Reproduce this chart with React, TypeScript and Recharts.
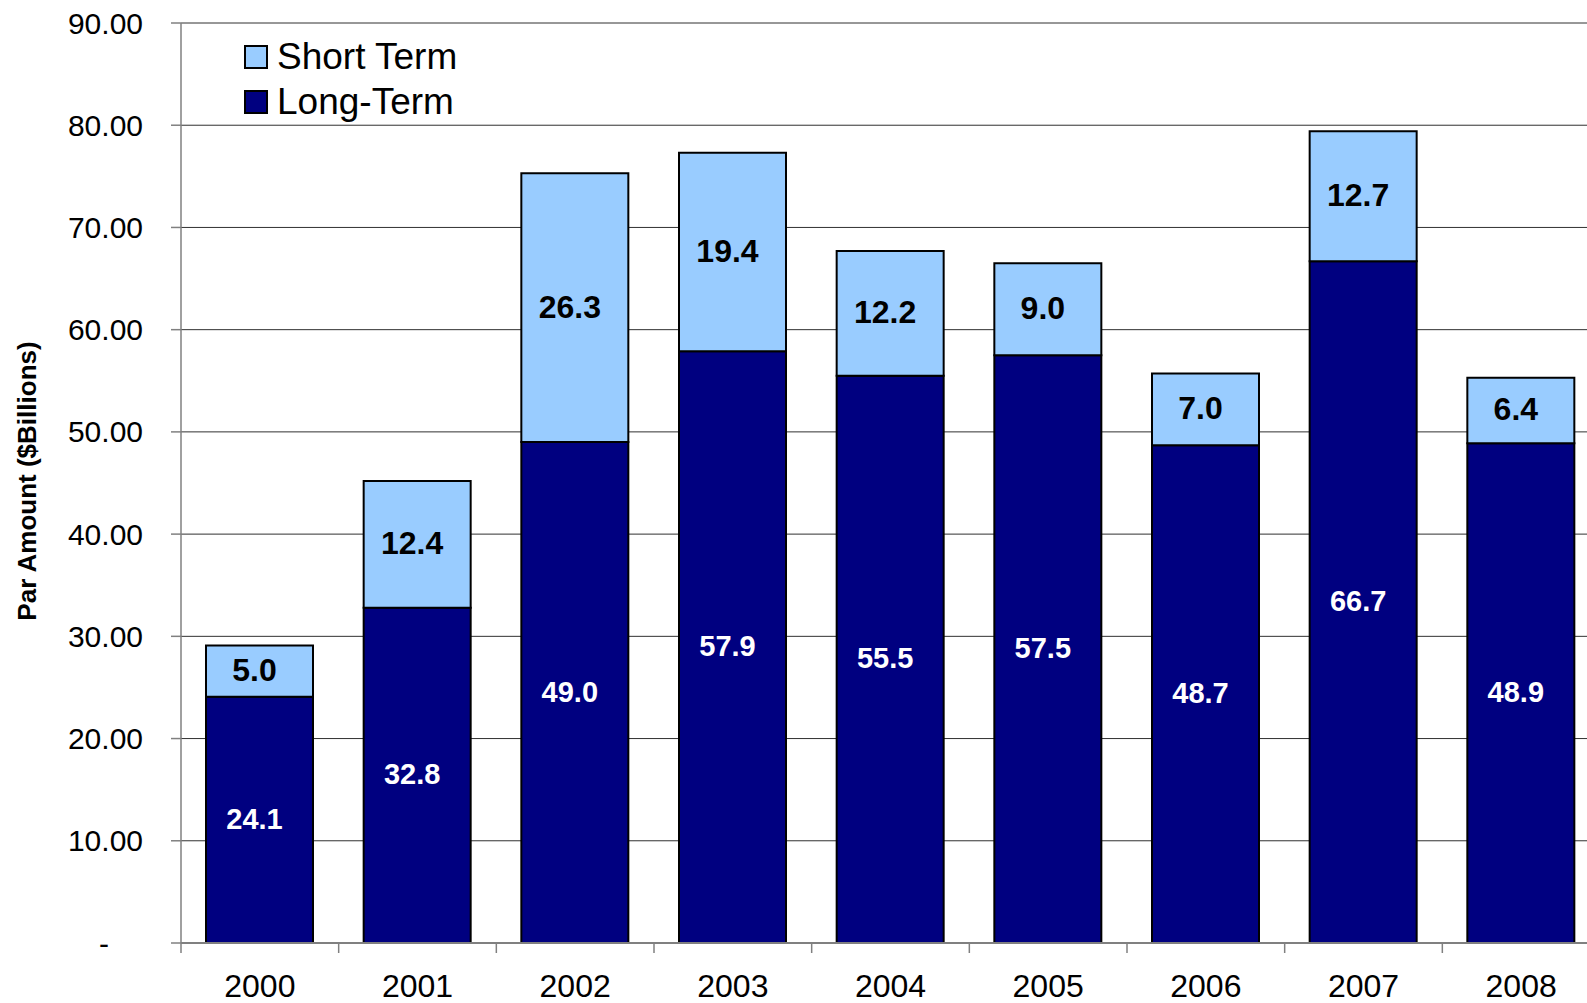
import {
  BarChart,
  Bar,
  XAxis,
  YAxis,
  CartesianGrid,
  Legend,
  LabelList,
  Label,
} from "recharts";

const years = ["2000", "2001", "2002", "2003", "2004", "2005", "2006", "2007", "2008"];
const longTerm = [24.1, 32.8, 49.0, 57.9, 55.5, 57.5, 48.7, 66.7, 48.9];
const shortTerm = [5.0, 12.4, 26.3, 19.4, 12.2, 9.0, 7.0, 12.7, 6.4];
const yTicks = [0, 10, 20, 30, 40, 50, 60, 70, 80, 90];

const FONT = "'Liberation Sans', Arial, Helvetica, sans-serif";
const NAVY = "#000080";
const LIGHT = "#99CCFF";

const CHART_W = 1640;
const CHART_H = 1003;
const Y_AXIS_W = 181;
const MARGIN = { top: 23, right: 40, bottom: 0, left: 0 };
const X_AXIS_H = 60;
const PLOT_W = CHART_W - Y_AXIS_W - MARGIN.right;
const BAND = PLOT_W / years.length;

const data = years.map((year, i) => ({
  year,
  long: longTerm[i],
  short: shortTerm[i],
}));

const XTick = ({ x, y, payload }: { x?: number; y?: number; payload?: { value: string } }) => {
  const cx = x ?? 0;
  const cy = y ?? 0;
  return (
    <g>
      <line x1={cx - BAND / 2} x2={cx - BAND / 2} y1={cy} y2={cy + 10} stroke="#808080" strokeWidth={1.5} />
      <text
        x={cx}
        y={cy + 43}
        textAnchor="middle"
        dominantBaseline="central"
        fontSize={32}
        fontFamily={FONT}
        fill="#000"
      >
        {payload?.value}
      </text>
    </g>
  );
};

const YTick = ({ x, y, payload }: { x?: number; y?: number; payload?: { value: number } }) => {
  const cx = x ?? 0;
  const cy = y ?? 0;
  const v = payload?.value ?? 0;
  return (
    <g>
      <line x1={cx - 10} x2={cx} y1={cy} y2={cy} stroke="#808080" strokeWidth={1.5} />
      <text
        x={v === 0 ? cx - 72 : cx - 38}
        y={cy}
        textAnchor="end"
        dominantBaseline="central"
        fontSize={30}
        fontFamily={FONT}
        fill="#000"
      >
        {v === 0 ? "-" : v.toFixed(2)}
      </text>
    </g>
  );
};

// excel puts the data labels a touch left of the bar centre
const makeLabel = (color: string, size: number) =>
  ({ x, y, width, height, value }: {
    x?: number; y?: number; width?: number; height?: number; value?: number;
  }) => (
    <text
      x={Number(x ?? 0) + Number(width ?? 0) / 2 - 5}
      y={Number(y ?? 0) + Number(height ?? 0) / 2 - 1}
      textAnchor="middle"
      dominantBaseline="central"
      fontSize={size}
      fontWeight={700}
      fontFamily={FONT}
      fill={color}
    >
      {Number(value).toFixed(1)}
    </text>
  );

const legendItems = [
  { name: "Short Term", color: LIGHT },
  { name: "Long-Term", color: NAVY },
];

const LegendBox = () => (
  <div style={{ fontFamily: FONT, fontSize: 37, color: "#000" }}>
    {legendItems.map((it) => (
      <div key={it.name} style={{ display: "flex", alignItems: "center", height: 45 }}>
        <span
          style={{
            display: "inline-block",
            width: 20,
            height: 20,
            background: it.color,
            border: "2px solid #000",
            marginRight: 9,
          }}
        />
        <span style={{ lineHeight: "45px" }}>{it.name}</span>
      </div>
    ))}
  </div>
);

export default function App() {
  return (
    <div
      style={{
        position: "fixed",
        left: 0,
        top: 0,
        width: 1587,
        height: 1003,
        overflow: "hidden",
        background: "#fff",
      }}
    >
      <BarChart
        width={CHART_W}
        height={CHART_H}
        data={data}
        margin={MARGIN}
        barSize={107}
      >
        <CartesianGrid horizontal vertical={false} stroke="#303030" strokeWidth={1} />
        <XAxis
          dataKey="year"
          height={X_AXIS_H}
          tickLine={false}
          tickSize={0}
          tickMargin={0}
          axisLine={{ stroke: "#808080", strokeWidth: 2 }}
          tick={<XTick />}
          interval={0}
        />
        <YAxis
          width={Y_AXIS_W}
          domain={[0, 90]}
          ticks={yTicks}
          interval={0}
          tickLine={false}
          tickSize={0}
          tickMargin={0}
          axisLine={{ stroke: "#808080", strokeWidth: 1.5 }}
          tick={<YTick />}
        >
          <Label
            content={({ viewBox }: { viewBox?: { x: number; y: number; width: number; height: number } }) => {
              const vb = viewBox ?? { x: 0, y: 0, width: 0, height: 0 };
              const cx = vb.x + 27;
              const cy = vb.y + vb.height / 2 - 2;
              return (
                <text
                  x={cx}
                  y={cy}
                  transform={`rotate(-90 ${cx} ${cy})`}
                  textAnchor="middle"
                  dominantBaseline="central"
                  fontSize={26}
                  fontWeight={700}
                  fontFamily={FONT}
                  fill="#000"
                >
                  Par Amount ($Billions)
                </text>
              );
            }}
          />
        </YAxis>
        <Legend
          layout="horizontal"
          verticalAlign="middle"
          align="center"
          content={<LegendBox />}
          wrapperStyle={{ position: "absolute", left: 244, top: 34, width: 320, height: 90 }}
        />
        <Bar
          dataKey="long"
          name="Long-Term"
          stackId="a"
          fill={NAVY}
          stroke="#000"
          strokeWidth={2}
          isAnimationActive={false}
        >
          <LabelList dataKey="long" content={makeLabel("#fff", 29)} />
        </Bar>
        <Bar
          dataKey="short"
          name="Short Term"
          stackId="a"
          fill={LIGHT}
          stroke="#000"
          strokeWidth={2}
          isAnimationActive={false}
        >
          <LabelList dataKey="short" content={makeLabel("#000", 32)} />
        </Bar>
      </BarChart>
    </div>
  );
}
